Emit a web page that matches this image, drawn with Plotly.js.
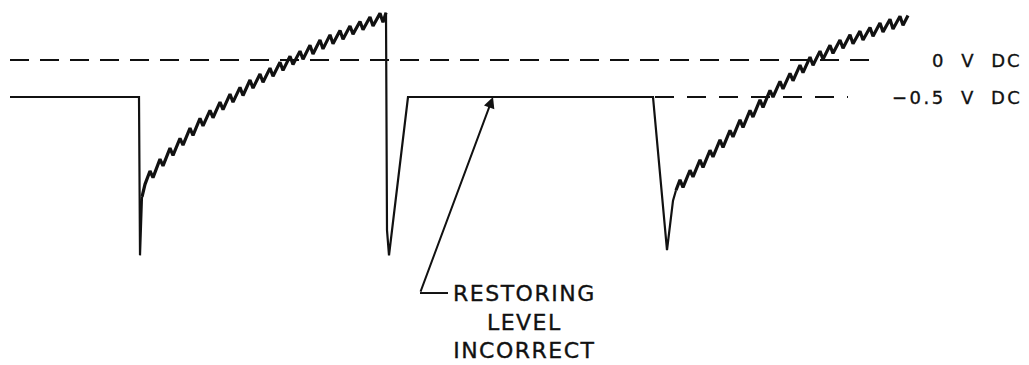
<!DOCTYPE html>
<html>
<head>
<meta charset="utf-8">
<script src="https://cdn.plot.ly/plotly-3.0.1.min.js"></script>
<style>html,body{margin:0;padding:0;background:#fff;}#chart{width:1029px;height:365px;}</style>
</head>
<body>
<div id="chart"></div>
<script>
// Time axis (arbitrary units) and voltage (V DC)
const leadT = [10, 139, 140, 142];
const leadV = [-0.5, -0.5, -2.64, -1.85];

const ramp1T = [142,145,150,153,160,163,170,173,180,183,190,193,200,203,210,213,220,223,230,233,240,243,250,253,260,263,270,273,280,283,290,293,300,303,310,313,320,323,330,333,340,343,350,353,360,363,370,373,380,383,386];
const ramp1V = [-1.85,-1.68,-1.50,-1.59,-1.34,-1.43,-1.19,-1.29,-1.06,-1.15,-0.92,-1.02,-0.79,-0.89,-0.68,-0.78,-0.57,-0.67,-0.46,-0.57,-0.37,-0.48,-0.27,-0.38,-0.19,-0.30,-0.11,-0.22,-0.03,-0.14,0.05,-0.06,0.12,0.01,0.20,0.08,0.27,0.15,0.34,0.22,0.40,0.28,0.46,0.35,0.52,0.41,0.58,0.46,0.63,0.51,0.64];

const restoreT = [386, 387, 389, 408, 653, 667, 673, 676];
const restoreV = [0.64, -2.30, -2.64, -0.5, -0.5, -2.57, -1.90, -1.76];

const ramp2T = [676,680,683,690,693,700,703,710,713,720,723,730,733,740,743,750,753,760,763,770,773,780,783,790,793,800,803,810,813,820,823,830,833,840,843,850,853,860,863,870,873,880,883,890,893,900,903,908];
const ramp2V = [-1.76,-1.62,-1.72,-1.49,-1.58,-1.35,-1.45,-1.22,-1.31,-1.08,-1.18,-0.95,-1.04,-0.81,-0.91,-0.68,-0.77,-0.54,-0.64,-0.41,-0.50,-0.29,-0.39,-0.18,-0.28,-0.07,-0.17,0.04,-0.07,0.12,0.01,0.20,0.09,0.27,0.16,0.34,0.22,0.39,0.27,0.44,0.32,0.50,0.38,0.55,0.42,0.59,0.47,0.60];

const zeroRefT = [10, 880];
const zeroRefV = [0, 0];
const halfRefT = [655, 848];
const halfRefV = [-0.5, -0.5];

const refLabels = ["0 V DC", "\u22120.5 V DC"];
const refLabelV = [0, -0.5];
const noteLines = ["RESTORING", "LEVEL", "INCORRECT"];
const arrowTail = [420, -3.149];
const arrowHead = [493, -0.5];
const leaderEndT = 448;

const ink = '#111';
const traces = [
  {x: zeroRefT, y: zeroRefV, mode: 'lines', line: {color: ink, width: 2, dash: '19px,11px'}},
  {x: halfRefT, y: halfRefV, mode: 'lines', line: {color: ink, width: 2, dash: '19px,13px'}},
  {x: leadT, y: leadV, mode: 'lines', line: {color: ink, width: 2.2}},
  {x: restoreT, y: restoreV, mode: 'lines', line: {color: ink, width: 2.2}},
  {x: ramp1T, y: ramp1V, mode: 'lines', line: {color: ink, width: 3.2}},
  {x: ramp2T, y: ramp2V, mode: 'lines', line: {color: ink, width: 3.2}}
];

const font = 'DejaVu Sans, Liberation Sans, sans-serif';
const heavy = 'stroke:#111;stroke-width:0.35px;';
const annotations = [
  {x: 1024, y: refLabelV[0], xref: 'x', yref: 'y', xanchor: 'right', yanchor: 'middle', showarrow: false,
   text: '<span style="' + heavy + 'letter-spacing:2px;word-spacing:8px">' + refLabels[0] + '</span>', font: {family: font, size: 18, color: ink}},
  {x: 1024, y: refLabelV[1] - 0.01, xref: 'x', yref: 'y', xanchor: 'right', yanchor: 'middle', showarrow: false,
   text: '<span style="' + heavy + 'letter-spacing:2.5px;word-spacing:7px">' + refLabels[1] + '</span>', font: {family: font, size: 18, color: ink}},
  {x: 524, y: -3.541, xref: 'x', yref: 'y', xanchor: 'center', yanchor: 'middle', align: 'center', showarrow: false,
   text: noteLines.map(s => '<span style="' + heavy + 'letter-spacing:1.5px">' + s + '</span>').join('<br>'),
   font: {family: font, size: 22, color: ink}},
  {x: arrowHead[0], y: arrowHead[1], ax: arrowTail[0], ay: arrowTail[1], axref: 'x', ayref: 'y', xref: 'x', yref: 'y',
   text: '', showarrow: true, arrowhead: 2, arrowsize: 1.1, arrowwidth: 2, arrowcolor: ink, standoff: 0, startstandoff: 0}
];

const shapes = [
  {type: 'line', xref: 'x', yref: 'y', x0: arrowTail[0], y0: arrowTail[1], x1: leaderEndT, y1: arrowTail[1], line: {color: ink, width: 2}}
];

const layout = {
  width: 1029, height: 365,
  margin: {l: 0, r: 0, t: 0, b: 0},
  paper_bgcolor: '#fff', plot_bgcolor: '#fff',
  showlegend: false,
  xaxis: {range: [0, 1029], visible: false, fixedrange: true},
  yaxis: {range: [-4.1216, 0.8108], visible: false, fixedrange: true},
  annotations: annotations,
  shapes: shapes
};

Plotly.newPlot('chart', traces, layout, {staticPlot: true, displayModeBar: false});
</script>
</body>
</html>
